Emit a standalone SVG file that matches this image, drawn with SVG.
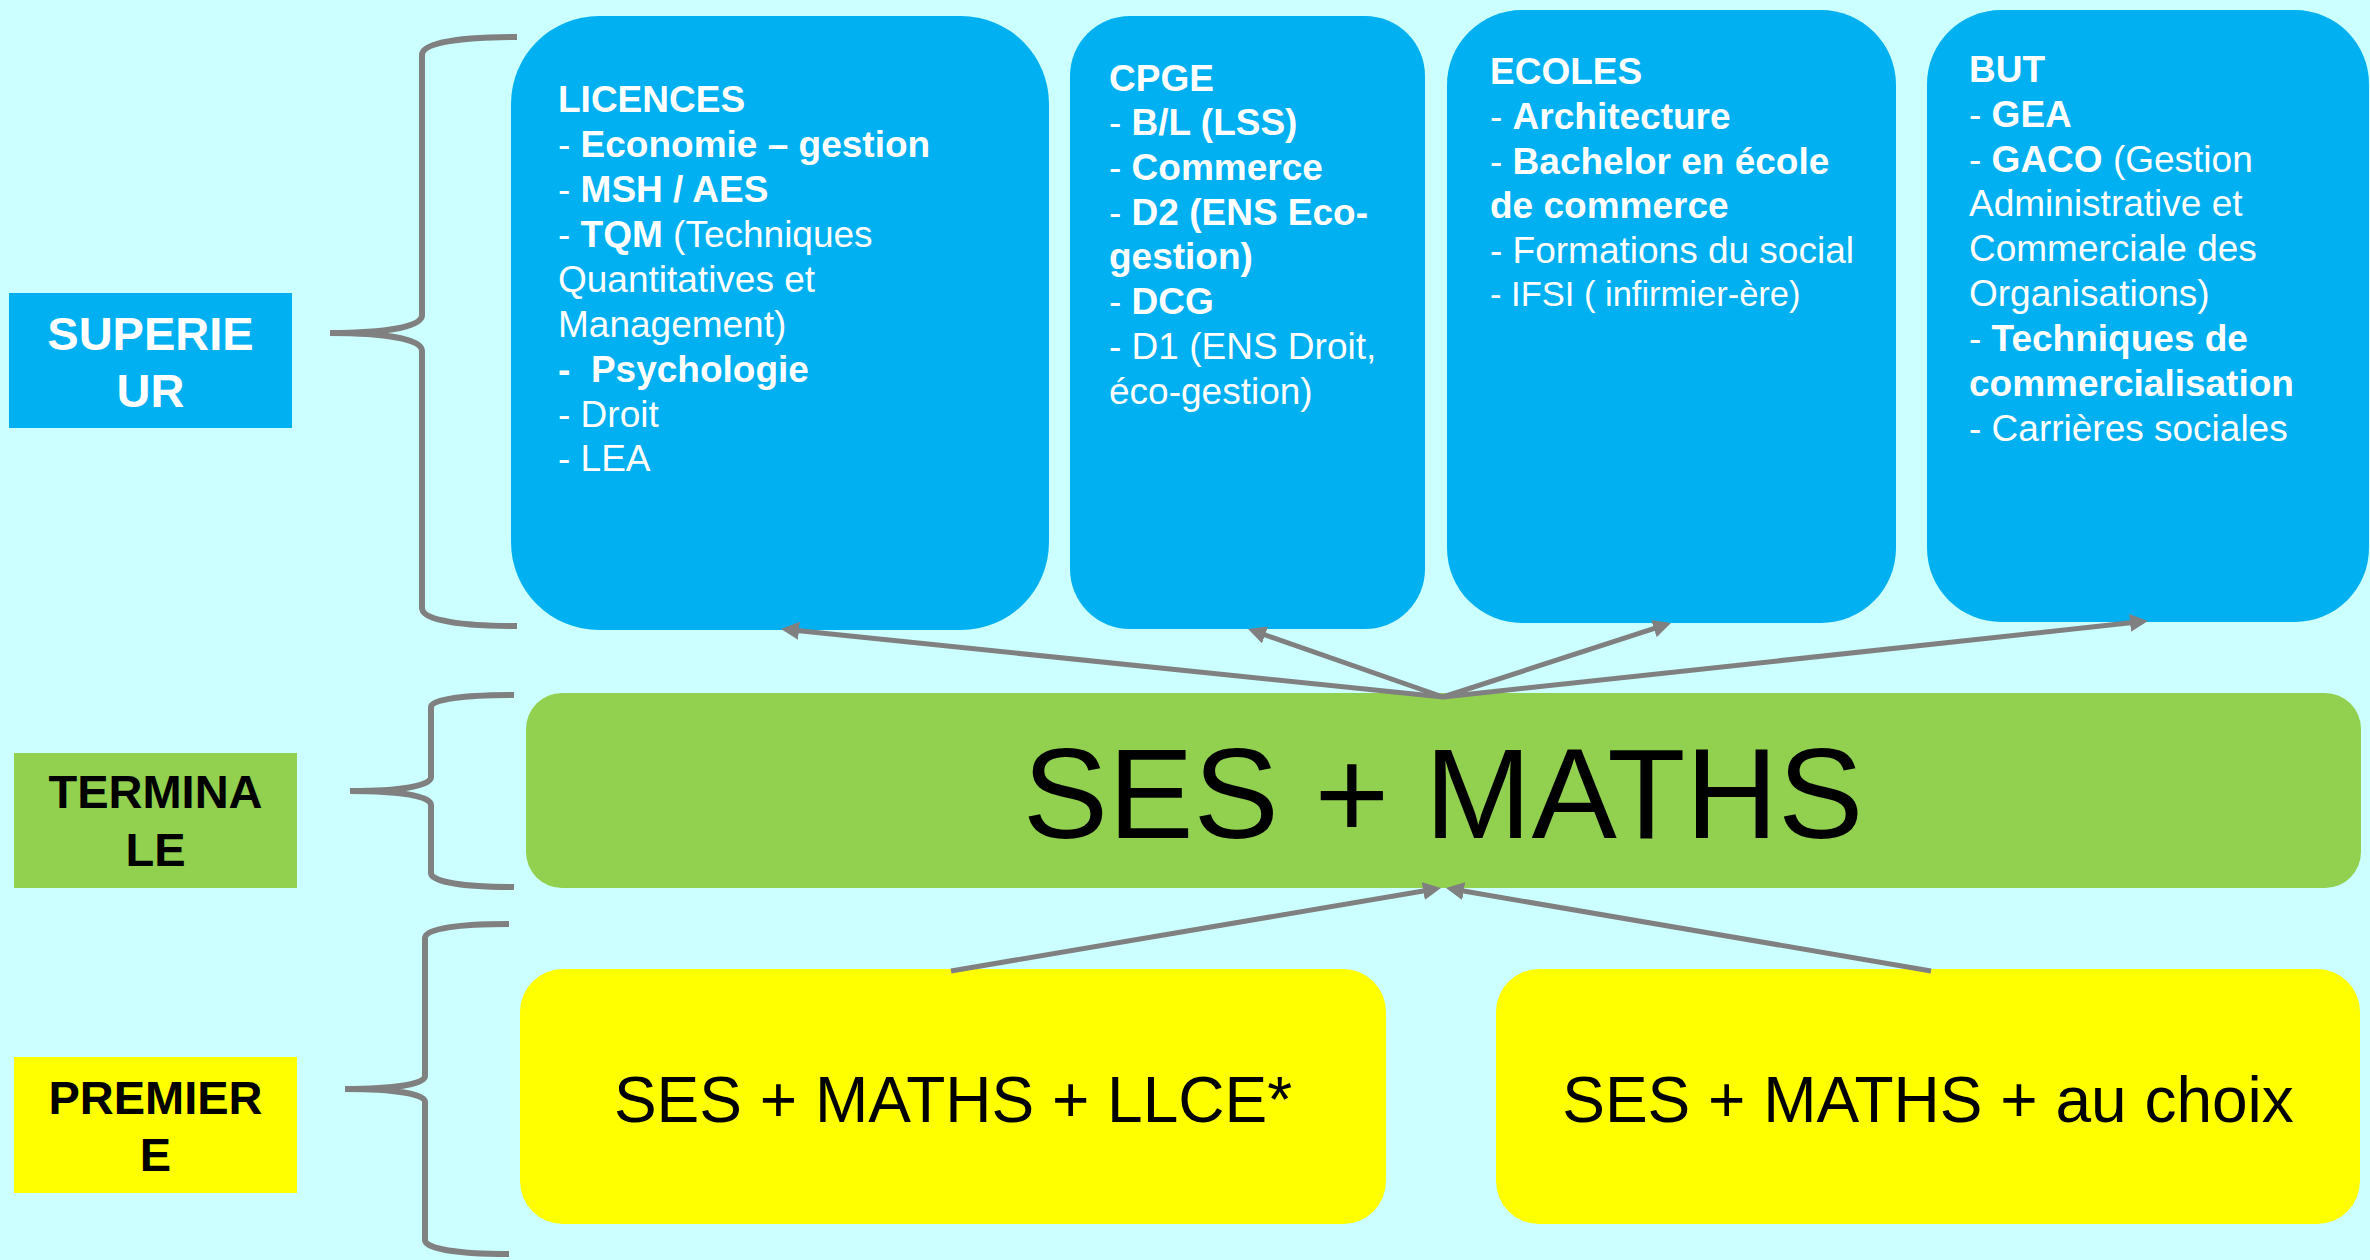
<svg xmlns="http://www.w3.org/2000/svg" width="2370" height="1260" viewBox="0 0 2370 1260">
<style>
text{font-family:"Liberation Sans",Arial,sans-serif}
.w{fill:#FFFFFF;font-size:37px}
.b{font-weight:bold}
.lbl{font-size:47px;font-weight:bold;text-anchor:middle}
.blue{fill:#00B0F0}
.green{fill:#92D050}
.yellow{fill:#FFFF00}
.brace{fill:none;stroke:#808080;stroke-width:6}
.conn{fill:none;stroke:#808080;stroke-width:5;marker-end:url(#ah)}
</style>
<defs>
<marker id="ah" markerUnits="userSpaceOnUse" markerWidth="18" markerHeight="18" viewBox="0 0 18 18" refX="12" refY="9" orient="auto">
<path d="M0,0 L18,9 L0,18 z" fill="#808080"/>
</marker>
</defs>
<rect width="2370" height="1260" fill="#CCFFFF"/>

<g id="label-superieur">
<rect class="blue" x="9" y="293" width="283" height="135"/>
<text class="lbl" fill="#FFFFFF" x="150.5" y="350">SUPERIE</text>
<text class="lbl" fill="#FFFFFF" x="150.5" y="407">UR</text>
</g>
<g id="label-terminale">
<rect class="green" x="14" y="753" width="283" height="135"/>
<text class="lbl" fill="#000000" x="155.5" y="808">TERMINA</text>
<text class="lbl" fill="#000000" x="155.5" y="866">LE</text>
</g>
<g id="label-premiere">
<rect class="yellow" x="14" y="1057" width="283" height="136"/>
<text class="lbl" fill="#000000" x="155.5" y="1114">PREMIER</text>
<text class="lbl" fill="#000000" x="155.5" y="1171">E</text>
</g>

<g id="braces">
<path class="brace" d="M517,37 C465,37 422,42 422,55 L422,315 C422,327 385,333 330,333 C385,333 422,339 422,351 L422,608 C422,621 465,626 517,626"/>
<path class="brace" d="M514,695 C465,695 431,699 431,707 L431,777 C431,786 400,791 350,791 C400,791 431,796 431,805 L431,873 C431,882 465,887 514,887"/>
<path class="brace" d="M509,924 C460,924 425,928 425,938 L425,1076 C425,1084 395,1089 345,1089 C395,1089 425,1094 425,1102 L425,1240 C425,1249 460,1254 509,1254"/>
</g>

<g id="node-licences">
<rect class="blue" x="511" y="16" width="538" height="614" rx="88" ry="88"/>
<text class="w" x="558" y="112"><tspan class="b">LICENCES</tspan></text>
<text class="w" x="558" y="157">- <tspan class="b">Economie – gestion</tspan></text>
<text class="w" x="558" y="202">- <tspan class="b">MSH / AES</tspan></text>
<text class="w" x="558" y="247">- <tspan class="b">TQM</tspan> (Techniques</text>
<text class="w" x="558" y="291.5">Quantitatives et</text>
<text class="w" x="558" y="336.5">Management)</text>
<text class="w b" x="558" y="381.5" xml:space="preserve">-  Psychologie</text>
<text class="w" x="558" y="426.5">- Droit</text>
<text class="w" x="558" y="471">- LEA</text>
</g>

<g id="node-cpge">
<rect class="blue" x="1070" y="16" width="355" height="613" rx="60" ry="60"/>
<text class="w" x="1109" y="90.5"><tspan class="b">CPGE</tspan></text>
<text class="w" x="1109" y="135">- <tspan class="b">B/L (LSS)</tspan></text>
<text class="w" x="1109" y="180">- <tspan class="b">Commerce</tspan></text>
<text class="w" x="1109" y="224.5">- <tspan class="b">D2 (ENS Eco-</tspan></text>
<text class="w" x="1109" y="269"><tspan class="b">gestion)</tspan></text>
<text class="w" x="1109" y="314">- <tspan class="b">DCG</tspan></text>
<text class="w" x="1109" y="358.5">- D1 (ENS Droit,</text>
<text class="w" x="1109" y="403.5">éco-gestion)</text>
</g>

<g id="node-ecoles">
<rect class="blue" x="1447" y="10" width="449" height="613" rx="75" ry="75"/>
<text class="w" x="1490" y="84"><tspan class="b">ECOLES</tspan></text>
<text class="w" x="1490" y="129">- <tspan class="b">Architecture</tspan></text>
<text class="w" x="1490" y="173.5">- <tspan class="b">Bachelor en école</tspan></text>
<text class="w" x="1490" y="218"><tspan class="b">de commerce</tspan></text>
<text class="w" x="1490" y="263">- Formations du social</text>
<text class="w" x="1490" y="306" style="font-size:34.5px">- IFSI ( infirmier-ère)</text>
</g>

<g id="node-but">
<rect class="blue" x="1927" y="10" width="442" height="612" rx="74" ry="74"/>
<text class="w" x="1969" y="82"><tspan class="b">BUT</tspan></text>
<text class="w" x="1969" y="127">- <tspan class="b">GEA</tspan></text>
<text class="w" x="1969" y="171.5">- <tspan class="b">GACO</tspan> (Gestion</text>
<text class="w" x="1969" y="216">Administrative et</text>
<text class="w" x="1969" y="261">Commerciale des</text>
<text class="w" x="1969" y="305.5">Organisations)</text>
<text class="w" x="1969" y="350.5">- <tspan class="b">Techniques de</tspan></text>
<text class="w" x="1969" y="396"><tspan class="b">commercialisation</tspan></text>
<text class="w" x="1969" y="441">- Carrières sociales</text>
</g>

<g id="node-terminale">
<rect class="green" x="526" y="693" width="1835" height="195" rx="36" ry="36"/>
<text x="1443" y="838" fill="#000000" font-size="128" text-anchor="middle">SES + MATHS</text>
</g>

<g id="node-premiere-llce">
<rect class="yellow" x="520" y="969" width="866" height="255" rx="43" ry="43"/>
<text x="953" y="1122" fill="#000000" font-size="64" text-anchor="middle">SES + MATHS + LLCE*</text>
</g>

<g id="node-premiere-choix">
<rect class="yellow" x="1496" y="969" width="864" height="255" rx="43" ry="43"/>
<text x="1928" y="1122" fill="#000000" font-size="64" text-anchor="middle">SES + MATHS + au choix</text>
</g>

<g id="connectors">
<path class="conn" d="M1443,697 L787,629.6"/>
<path class="conn" d="M1443,697 L1253.7,631"/>
<path class="conn" d="M1443,697 L1665.3,624.9"/>
<path class="conn" d="M1443,697 L2142,621.6"/>
<path class="conn" d="M951,971 L1435.1,889"/>
<path class="conn" d="M1931,971 L1451.9,889"/>
</g>
</svg>
